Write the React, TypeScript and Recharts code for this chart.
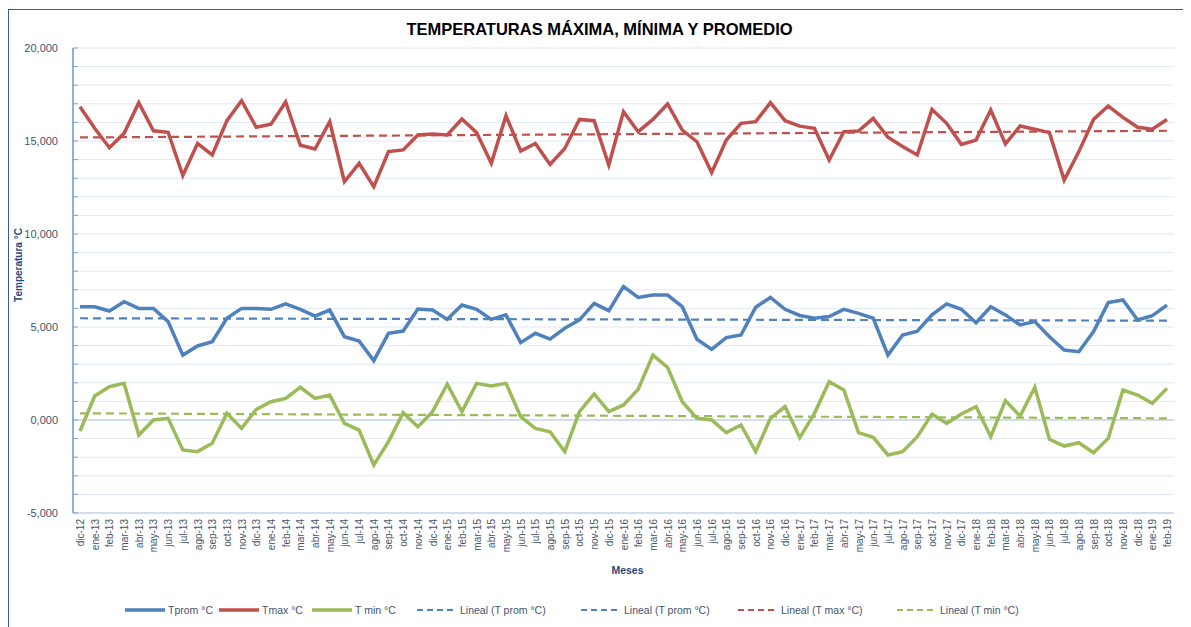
import React from "react"
import { CartesianGrid, Line, LineChart, ReferenceLine, XAxis, YAxis } from "recharts"

const months = [
  "dic-12",
  "ene-13", "feb-13", "mar-13", "abr-13", "may-13", "jun-13", "jul-13", "ago-13", "sep-13", "oct-13", "nov-13", "dic-13",
  "ene-14", "feb-14", "mar-14", "abr-14", "may-14", "jun-14", "jul-14", "ago-14", "sep-14", "oct-14", "nov-14", "dic-14",
  "ene-15", "feb-15", "mar-15", "abr-15", "may-15", "jun-15", "jul-15", "ago-15", "sep-15", "oct-15", "nov-15", "dic-15",
  "ene-16", "feb-16", "mar-16", "abr-16", "may-16", "jun-16", "jul-16", "ago-16", "sep-16", "oct-16", "nov-16", "dic-16",
  "ene-17", "feb-17", "mar-17", "abr-17", "may-17", "jun-17", "jul-17", "ago-17", "sep-17", "oct-17", "nov-17", "dic-17",
  "ene-18", "feb-18", "mar-18", "abr-18", "may-18", "jun-18", "jul-18", "ago-18", "sep-18", "oct-18", "nov-18", "dic-18",
  "ene-19", "feb-19",
]

const tprom = [
  6.09, 6.09, 5.86, 6.36, 6.0, 6.0, 5.29, 3.49, 3.98, 4.21,
  5.47, 6.0, 6.0, 5.95, 6.24, 5.95, 5.59, 5.91, 4.48, 4.25,
  3.19, 4.66, 4.78, 5.97, 5.91, 5.41, 6.18, 5.95, 5.41, 5.65,
  4.16, 4.66, 4.35, 4.93, 5.38, 6.27, 5.88, 7.17, 6.59, 6.72,
  6.72, 6.09, 4.34, 3.8, 4.43, 4.57, 6.06, 6.59, 5.95, 5.62,
  5.47, 5.56, 5.95, 5.73, 5.47, 3.49, 4.57, 4.78, 5.65, 6.24,
  5.95, 5.23, 6.09, 5.65, 5.11, 5.29, 4.48, 3.76, 3.67, 4.75,
  6.31, 6.45, 5.38, 5.61, 6.18,
]

const tmax = [
  16.84, 15.68, 14.64, 15.41, 17.06, 15.55, 15.47, 13.14, 14.87, 14.25,
  16.09, 17.17, 15.74, 15.9, 17.1, 14.77, 14.57, 16.04, 12.81, 13.8,
  12.54, 14.43, 14.52, 15.32, 15.38, 15.32, 16.18, 15.45, 13.8, 16.36,
  14.46, 14.87, 13.74, 14.6, 16.16, 16.09, 13.71, 16.58, 15.5, 16.16,
  16.99, 15.59, 14.96, 13.3, 15.05, 15.95, 16.04, 17.06, 16.09, 15.8,
  15.68, 13.98, 15.5, 15.54, 16.22, 15.2, 14.7, 14.25, 16.7, 15.95,
  14.82, 15.05, 16.67, 14.84, 15.81, 15.63, 15.45, 12.9, 14.43, 16.16,
  16.88, 16.27, 15.74, 15.63, 16.16,
]

const tmin = [
  -0.59, 1.29, 1.79, 1.97, -0.81, 0.0, 0.09, -1.61, -1.7, -1.25,
  0.36, -0.45, 0.57, 0.98, 1.16, 1.76, 1.16, 1.34, -0.18, -0.54,
  -2.42, -1.16, 0.39, -0.36, 0.45, 1.92, 0.45, 1.97, 1.83, 1.97,
  0.18, -0.45, -0.63, -1.7, 0.45, 1.4, 0.45, 0.81, 1.65, 3.49,
  2.83, 0.98, 0.09, 0.0, -0.68, -0.27, -1.7, 0.09, 0.72, -0.95,
  0.36, 2.06, 1.61, -0.68, -0.93, -1.88, -1.7, -0.9, 0.32, -0.18,
  0.32, 0.72, -0.9, 1.04, 0.21, 1.76, -1.04, -1.4, -1.22, -1.76,
  -0.99, 1.61, 1.34, 0.9, 1.7,
]

// trend line ends (first month, last month)
const trendProm = [5.47, 5.34]
const trendMax = [15.19, 15.55]
const trendMin = [0.36, 0.09]

const yTicks = [-5, -4, -3, -2, -1, 0, 1, 2, 3, 4, 5, 6, 7, 8, 9, 10, 11, 12, 13, 14, 15, 16, 17, 18, 19, 20]

const BLUE = "#4f81bd"
const RED = "#c0504d"
const GREEN = "#9bbb59"
const TEXT = "#44546a"
const FONT = "'Liberation Sans', Arial, sans-serif"

const data = months.map((m, i) => ({ mes: m, prom: tprom[i], max: tmax[i], min: tmin[i] }))

const legendItems = [
  { label: "Tprom °C", color: BLUE, dashed: false, left: 117 },
  { label: "Tmax °C", color: RED, dashed: false, left: 211 },
  { label: "T min °C", color: GREEN, dashed: false, left: 304 },
  { label: "Lineal (T prom °C)", color: BLUE, dashed: true, left: 409 },
  { label: "Lineal (T prom °C)", color: BLUE, dashed: true, left: 573 },
  { label: "Lineal (T max °C)", color: RED, dashed: true, left: 730 },
  { label: "Lineal (T min °C)", color: GREEN, dashed: true, left: 889 },
]

const fmt = (v: number) => v.toFixed(3).replace(".", ",")

const YTick = (props: any) => {
  const { x, y, payload } = props
  const v = payload.value
  return (
    <g>
      <line x1={x + 15} x2={x + 20} y1={y} y2={y} stroke="#7ea3d3" strokeWidth={1} />
      {v % 5 === 0 && (
        <text x={x} y={y} dy={4} textAnchor="end" fontSize={11} fill={TEXT} fontFamily={FONT}>
          {fmt(v)}
        </text>
      )}
    </g>
  )
}

const XTick = (props: any) => {
  const { x, y, payload } = props
  return (
    <text
      x={x}
      y={y}
      dy={4}
      transform={`rotate(-90 ${x} ${y})`}
      textAnchor="end"
      fontSize={10}
      fill={TEXT}
      fontFamily={FONT}
    >
      {payload.value}
    </text>
  )
}

const first = months[0]
const last = months[months.length - 1]

export default function App() {
  return (
    <div style={{ position: "relative", width: 1183, height: 619, fontFamily: FONT }}>
      <div
        style={{
          position: "absolute",
          left: 0,
          top: 1,
          width: 1183,
          height: 618,
          borderLeft: "1.5px solid #385d8a",
          borderTop: "1.5px solid #385d8a",
          boxSizing: "border-box",
        }}
      />
      <div
        style={{
          position: "absolute",
          top: 12,
          left: 0,
          width: 1183,
          textAlign: "center",
          fontWeight: "bold",
          fontSize: 16.5,
          color: "#000",
        }}
      >
        TEMPERATURAS MÁXIMA, MÍNIMA Y PROMEDIO
      </div>
      <div
        style={{
          position: "absolute",
          left: 10,
          top: 257,
          transform: "translate(-50%, -50%) rotate(-90deg)",
          transformOrigin: "center",
          fontWeight: "bold",
          fontSize: 10,
          color: "#1f497d",
          whiteSpace: "nowrap",
        }}
      >
        Temperatura °C
      </div>
      <LineChart width={1183} height={619} data={data} margin={{ top: 40, right: 17, left: 0, bottom: 74 }}>
        <CartesianGrid vertical={false} stroke="#dfe8f4" strokeWidth={1} />
        <XAxis
          dataKey="mes"
          interval={0}
          padding={{ left: 7, right: 7 }}
          height={40}
          tickLine={false}
          tickSize={0}
          tickMargin={6}
          axisLine={{ stroke: "#c6d7ec", strokeWidth: 1.5 }}
          tick={XTick}
        />
        <YAxis
          width={65}
          domain={[-5, 20]}
          ticks={yTicks}
          interval={0}
          tickLine={false}
          tickSize={0}
          tickMargin={15}
          axisLine={{ stroke: "#6d96cc", strokeWidth: 1.5 }}
          tick={YTick}
        />
        <ReferenceLine y={0} stroke="#c6d7ec" strokeWidth={1.5} />
        <Line dataKey="prom" stroke={BLUE} strokeWidth={3.5} dot={false} isAnimationActive={false} />
        <Line dataKey="max" stroke={RED} strokeWidth={3.5} dot={false} isAnimationActive={false} />
        <Line dataKey="min" stroke={GREEN} strokeWidth={3.5} dot={false} isAnimationActive={false} />
        <ReferenceLine
          segment={[{ x: first, y: trendProm[0] }, { x: last, y: trendProm[1] }]}
          stroke={BLUE}
          strokeWidth={2.2}
          strokeDasharray="8 5"
        />
        <ReferenceLine
          segment={[{ x: first, y: trendMax[0] }, { x: last, y: trendMax[1] }]}
          stroke={RED}
          strokeWidth={2.2}
          strokeDasharray="8 5"
        />
        <ReferenceLine
          segment={[{ x: first, y: trendMin[0] }, { x: last, y: trendMin[1] }]}
          stroke={GREEN}
          strokeWidth={2.2}
          strokeDasharray="8 5"
        />
      </LineChart>
      <div
        style={{
          position: "absolute",
          top: 556,
          left: 0,
          width: 1239,
          textAlign: "center",
          fontWeight: "bold",
          fontSize: 10.5,
          color: "#1f497d",
        }}
      >
        Meses
      </div>
      {legendItems.map((it, i) => (
        <div
          key={i}
          style={{
            position: "absolute",
            top: 596,
            left: it.left,
            display: "flex",
            alignItems: "center",
            gap: 3,
            fontSize: 10.5,
            color: TEXT,
            whiteSpace: "nowrap",
          }}
        >
          <svg width={40} height={6}>
            <line
              x1={0}
              x2={40}
              y1={3}
              y2={3}
              stroke={it.color}
              strokeWidth={it.dashed ? 2.2 : 3.5}
              strokeDasharray={it.dashed ? "6 4" : undefined}
            />
          </svg>
          <span>{it.label}</span>
        </div>
      ))}
    </div>
  )
}
